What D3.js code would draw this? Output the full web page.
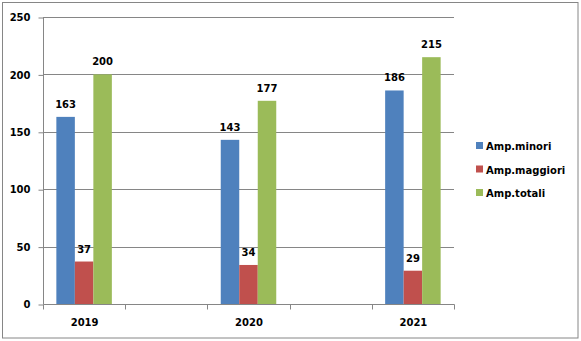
<!DOCTYPE html>
<html>
<head>
<meta charset="utf-8">
<script src="https://cdn.jsdelivr.net/npm/d3@7"></script>
<style>
  html, body { margin: 0; padding: 0; background: #fff; }
  svg { display: block; }
  text { font-family: "DejaVu Sans", Verdana, sans-serif; font-size: 10px; font-weight: bold; fill: #000; }
</style>
</head>
<body>
<svg id="chart" width="581" height="341"></svg>
<script>
// Chart data
const years = ["2019", "2020", "2021"];
const seriesNames = ["Amp.minori", "Amp.maggiori", "Amp.totali"];
const ampMinori = [163, 143, 186];
const ampMaggiori = [37, 34, 29];
const ampTotali = [200, 177, 215];
const yTicks = [0, 50, 100, 150, 200, 250];
const colors = ["#4F81BD", "#C0504D", "#9BBB59"];

const seriesValues = [ampMinori, ampMaggiori, ampTotali];

const svg = d3.select("#chart");
const plot = { left: 43, right: 454, top: 17, bottom: 304 };

// Outer frame
svg.append("rect")
  .attr("x", 2.5).attr("y", 2.5)
  .attr("width", 575.5).attr("height", 335.5)
  .attr("fill", "#fff").attr("stroke", "#868686").attr("stroke-width", 1);

const x = d3.scalePoint().domain(years).range([plot.left, plot.right]).padding(0.25);
const y = d3.scaleLinear().domain([0, 250]).range([plot.bottom, plot.top]);

const barW = 18.5;
const xs = d3.scaleBand().domain(seriesNames).range([-barW * 1.5, barW * 1.5]).padding(0);

// Horizontal gridlines
svg.append("g").selectAll("line").data(yTicks.filter(d => d > 0)).join("line")
  .attr("x1", plot.left).attr("x2", plot.right)
  .attr("y1", d => Math.round(y(d)) + 0.5).attr("y2", d => Math.round(y(d)) + 0.5)
  .attr("stroke", "#868686").attr("stroke-width", 1);

// Y axis
const yAxis = d3.axisLeft(y).tickValues(yTicks).tickSize(5).tickPadding(8);
const gy = svg.append("g").attr("transform", `translate(${plot.left + 0.5},0.5)`).call(yAxis);
gy.selectAll("path, line").attr("stroke", "#868686");
gy.select(".domain").attr("d", `M0,${plot.top}V${plot.bottom}`);
gy.selectAll("text").attr("font-family", null).attr("font-size", null).attr("fill", "#000")
  .attr("x", -13);

// Bars
const groups = svg.append("g").selectAll("g").data(years).join("g")
  .attr("transform", d => `translate(${x(d)},0)`);

seriesNames.forEach((name, si) => {
  groups.append("rect")
    .attr("x", xs(name))
    .attr("width", xs.bandwidth())
    .attr("y", (d, i) => y(seriesValues[si][i]))
    .attr("height", (d, i) => y(0) - y(seriesValues[si][i]))
    .attr("fill", colors[si]);
  groups.append("text")
    .attr("x", xs(name) + xs.bandwidth() / 2)
    .attr("y", (d, i) => y(seriesValues[si][i]) - 9)
    .attr("text-anchor", "middle")
    .text((d, i) => seriesValues[si][i]);
});

// X axis with tick marks a quarter step either side of each category
const step = x.step();
const xTickPos = [];
years.forEach(yr => { xTickPos.push(x(yr) - step / 4, x(yr) + step / 4); });
const gx = svg.append("g").attr("transform", `translate(0.5,${plot.bottom + 0.5})`);
gx.append("line").attr("x1", plot.left).attr("x2", plot.right).attr("y1", 0).attr("y2", 0)
  .attr("stroke", "#868686");
gx.selectAll("line.tick").data(xTickPos).join("line").attr("class", "tick")
  .attr("x1", d => Math.round(d)).attr("x2", d => Math.round(d))
  .attr("y1", 0).attr("y2", 5).attr("stroke", "#868686");
gx.selectAll("text").data(years).join("text")
  .attr("x", d => x(d)).attr("y", 21)
  .attr("text-anchor", "middle").text(d => d);

// Legend
const legend = svg.append("g").attr("transform", "translate(476,142)");
const items = legend.selectAll("g").data(seriesNames).join("g")
  .attr("transform", (d, i) => `translate(0,${i * 23.5})`);
items.append("rect").attr("width", 7).attr("height", 7).attr("y", 0)
  .attr("fill", (d, i) => colors[i]);
items.append("text").attr("x", 10).attr("y", 8).text(d => d);
</script>
</body>
</html>
